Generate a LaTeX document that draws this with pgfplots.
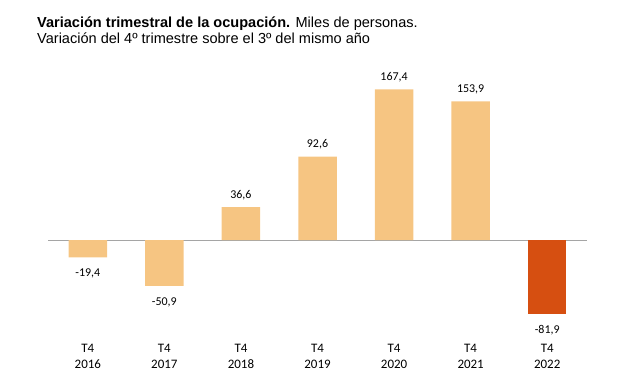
\documentclass[border=0pt]{standalone}
\usepackage{fontspec}
\usepackage{pgfplots}
\pgfplotsset{compat=1.18}
\setmainfont{Liberation Sans}
\newfontfamily\carlito{Carlito}
\definecolor{lightbar}{RGB}{246,197,130}
\definecolor{darkbar}{RGB}{214,79,17}
\definecolor{zeroline}{RGB}{165,165,165}
\begin{document}
\begin{tikzpicture}
\begin{axis}[name=ax, at={(0,0)}, anchor=south west,
  scale only axis, width=539bp, height=261bp,
  xmin=-0.52, xmax=6.52, ymin=-100, ymax=190,
  axis line style={draw=none}, ytick=\empty,
  xtick={0,1,2,3,4,5,6},
  xticklabels={{T4\\2016},{T4\\2017},{T4\\2018},{T4\\2019},{T4\\2020},{T4\\2021},{T4\\2022}},
  xticklabel style={align=center, font=\carlito\fontsize{13}{16}\selectfont, yshift=-11bp},
  major tick length=0pt,
  clip=false,
  /pgf/number format/use comma, /pgf/number format/fixed, /pgf/number format/fixed zerofill,
  /pgf/number format/precision=1, /pgf/number format/assume math mode=true,
]
\addplot[zeroline, line width=1bp, sharp plot, mark=none, forget plot] coordinates {(-0.52,0) (6.52,0)};
\addplot[ybar, bar width=38.5bp, bar shift=0pt, fill=lightbar, draw=none,
  nodes near coords, nodes near coords align=vertical,
  every node near coord/.append style={font=\carlito\fontsize{12}{14}\selectfont, yshift=4bp, text=black}]
  coordinates {(2,36.6) (3,92.6) (4,167.4) (5,153.9)};
\addplot[ybar, bar width=38.5bp, bar shift=0pt, fill=lightbar, draw=none,
  nodes near coords, nodes near coords align=vertical,
  every node near coord/.append style={font=\carlito\fontsize{12}{14}\selectfont, yshift=-8bp, text=black}]
  coordinates {(0,-19.4) (1,-50.9)};
\addplot[ybar, bar width=38.5bp, bar shift=0pt, fill=darkbar, draw=none,
  nodes near coords, nodes near coords align=vertical,
  every node near coord/.append style={font=\carlito\fontsize{12}{14}\selectfont, yshift=-8bp, text=black}]
  coordinates {(6,-81.9)};
\end{axis}
\node[anchor=base west, inner sep=0pt, font=\fontsize{14.6}{16}\selectfont] at ([xshift=-11bp,yshift=41.3bp]ax.north west) {\textbf{Variación trimestral de la ocupación.} Miles de personas.};
\node[anchor=base west, inner sep=0pt, font=\fontsize{14.6}{16}\selectfont] at ([xshift=-11bp,yshift=25.7bp]ax.north west) {Variación del 4º trimestre sobre el 3º del mismo año};
\pgfresetboundingbox
\path ([xshift=-48bp,yshift=-50bp]ax.south west) rectangle ([xshift=43bp,yshift=69bp]ax.north east);
\end{tikzpicture}
\end{document}
